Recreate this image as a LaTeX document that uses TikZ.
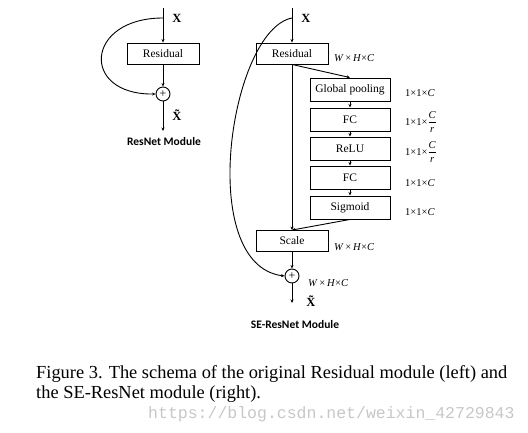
\documentclass[tikz,border=0pt]{standalone}
\usepackage{amsmath}
\usepackage{fontspec}
\setmainfont{Liberation Serif}
\newfontfamily\calib{Carlito}
\newfontfamily\wmono{Liberation Mono}
\usetikzlibrary{arrows.meta}
\newcommand{\whc}{\textit{W}\,×\,\textit{H}×\textit{C}}
\newcommand{\fracCr}{$\genfrac{}{}{0.5pt}{0}{\textit{C}}{\textit{r}}$}
\begin{document}
\begin{tikzpicture}[x=1pt,y=-1pt,
  blk/.style={draw,line width=0.9pt,minimum width=72pt,minimum height=21pt,inner sep=0pt,font=\fontsize{11.5}{12}\selectfont},
  seblk/.style={blk,minimum width=80pt,minimum height=23pt},
  addc/.style={draw,circle,line width=0.9pt,minimum size=14pt,inner sep=0pt},
  arr/.style={line width=0.9pt,-{Stealth[length=3.5pt,width=3pt]}},
  dim/.style={font=\fontsize{10.5}{11}\selectfont,anchor=west,inner sep=0pt},
  modlbl/.style={font=\calib\bfseries\fontsize{11.5}{12}\selectfont},
  xlbl/.style={font=\bfseries\fontsize{12.5}{12}\selectfont}]
\useasboundingbox (0,0) rectangle (528,432);
% ---------- ResNet module ----------
\coordinate (lt) at (163,8);
\coordinate (ls) at (163,18);
\node[blk] (lres) at (163,53.5) {Residual};
\node[addc] (ladd) at (163,94) {};
\node[font=\fontsize{12}{12}\selectfont] at (163,94.3) {+};
\coordinate (lend) at (163,131);
\node[xlbl] (lx) at (177,18) {X};
\node[xlbl] (lxt) at (177,115) {\~X};
\node[modlbl] (lmod) at (164,142) {ResNet Module};
\draw[arr] (lt) -- (lres.north);
\draw[arr] (lres.south) -- (ladd.north);
\draw[arr] (ladd.south) -- (lend);
\draw[arr] (ls) .. controls (85,18) and (80,95) .. (ladd.west);
% ---------- SE-ResNet module ----------
\coordinate (rt) at (292,8);
\coordinate (rs) at (292,18);
\node[blk] (rres) at (292,53.5) {Residual};
\node[seblk] (gp) at (350,89.5) {Global pooling};
\node[seblk] (fc1) at (350,119.5) {FC};
\node[seblk] (relu) at (350,148.5) {ReLU};
\node[seblk] (fc2) at (350,177.5) {FC};
\node[seblk] (sig) at (350,207.5) {Sigmoid};
\node[blk] (scale) at (292,241) {Scale};
\node[addc] (radd) at (292,276) {};
\node[font=\fontsize{12}{12}\selectfont] at (292,276.3) {+};
\coordinate (rend) at (292,303);
\node[xlbl] (rx) at (306,18) {X};
\node[xlbl] (rxt) at (311,301) {\~X};
\node[modlbl] (rmod) at (295,325) {SE-ResNet Module};
\draw[arr] (rt) -- (rres.north);
\draw[arr] (rres.south) -- (gp.north);
\draw[arr] (gp.south) -- (fc1.north);
\draw[arr] (fc1.south) -- (relu.north);
\draw[arr] (relu.south) -- (fc2.north);
\draw[arr] (fc2.south) -- (sig.north);
\draw[arr] (sig.south) -- (scale.north);
\draw[arr] (rres.south) -- (scale.north);
\draw[arr] (scale.south) -- (radd.north);
\draw[arr] (radd.south) -- (rend);
\draw[arr] (rs) .. controls (230,30) and (195,265) .. (radd.west);
% dimension labels
\node[dim] (d0) at (334,58) {\whc};
\node[dim] (d1) at (405,93) {1×1×\textit{C}};
\node[dim] (d2) at (405,122) {1×1×\fracCr};
\node[dim] (d3) at (405,152) {1×1×\fracCr};
\node[dim] (d4) at (405,183) {1×1×\textit{C}};
\node[dim] (d5) at (405,212) {1×1×\textit{C}};
\node[dim] (d6) at (334,247) {\whc};
\node[dim] (d7) at (308,283) {\whc};
% caption
\node[anchor=base west,font=\fontsize{18.4}{19}\selectfont,inner sep=0pt] (cap1) at (36,378) {Figure 3. The schema of the original Residual module (left) and};
\node[anchor=base west,font=\fontsize{18.4}{19}\selectfont,inner sep=0pt] (cap2) at (36,398) {the SE-ResNet module (right).};
\node[anchor=base west,font=\wmono\fontsize{16.5}{19}\selectfont,text=black!22,inner sep=0pt] (wm) at (148,418) {https://blog.csdn.net/weixin\_42729843};
\end{tikzpicture}
\end{document}
